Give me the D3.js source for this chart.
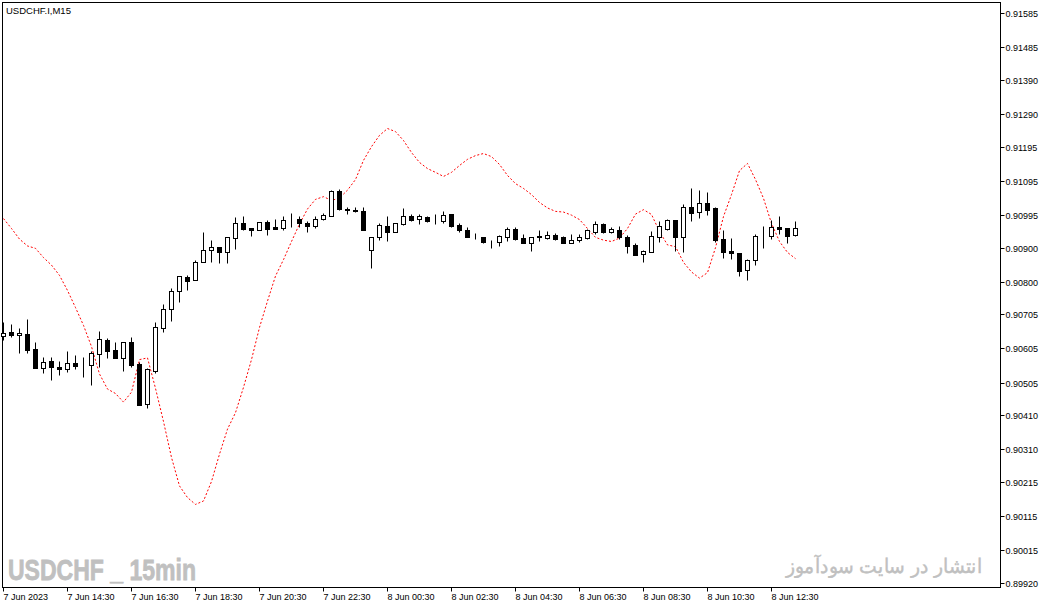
<!DOCTYPE html>
<html>
<head>
<meta charset="utf-8">
<script src="https://cdn.jsdelivr.net/npm/d3@7"></script>
<style>
    html, body { margin: 0; padding: 0; background: #fff; }
    .chart-wrap { width: 1046px; height: 608px; position: relative; }
    svg text { font-family: "Liberation Sans", Arial, sans-serif; }
</style>
</head>
<body>
<div class="chart-wrap"><svg class="chart" width="1046" height="608"></svg></div>
<script>
// USDCHF.I M15, 7 Jun 12:30 -> 8 Jun 13:15 (one value per bar)
const opens = [
    0.90641,0.90653,0.90644,0.90647,0.90604,0.90548,0.90568,0.90551,0.90545,0.90563,
    0.90557,0.90557,0.90589,0.90630,0.90601,0.90577,0.90624,0.90560,0.90443,0.90539,
    0.90665,0.90720,0.90773,0.90814,0.90805,0.90858,0.90893,0.90901,0.90887,0.90928,
    0.90972,0.90957,0.90951,0.90974,0.90960,0.90957,0.90983,0.90983,0.90972,0.90963,
    0.90983,0.90992,0.91065,0.91012,0.91010,0.91007,0.90893,0.90931,0.90963,0.90945,
    0.90969,0.90992,0.90983,0.90989,0.90980,0.90977,0.90998,0.90966,0.90951,0.90934,
    0.90931,0.90919,0.90916,0.90931,0.90954,0.90928,0.90913,0.90934,0.90928,0.90937,
    0.90931,0.90913,0.90922,0.90928,0.90945,0.90969,0.90945,0.90951,0.90931,0.90907,
    0.90881,0.90887,0.90931,0.90954,0.90980,0.90931,0.91018,0.91004,0.91030,0.91015,
    0.90925,0.90890,0.90884,0.90834,0.90863,0.90934,0.90934,0.90960,0.90957,0.90937
];
const highs = [
    0.90682,0.90677,0.90665,0.90691,0.90624,0.90580,0.90580,0.90568,0.90598,0.90586,
    0.90580,0.90598,0.90656,0.90636,0.90624,0.90624,0.90639,0.90566,0.90548,0.90682,
    0.90735,0.90782,0.90817,0.90820,0.90863,0.90945,0.90922,0.90901,0.90931,0.90989,
    0.90992,0.90957,0.90974,0.90980,0.90983,0.90992,0.91001,0.90992,0.90977,0.90992,
    0.91001,0.91068,0.91071,0.91018,0.91018,0.91018,0.90931,0.90972,0.90992,0.90972,
    0.91015,0.90998,0.90998,0.90992,0.90998,0.91007,0.90998,0.90972,0.90960,0.90942,
    0.90931,0.90922,0.90937,0.90960,0.90960,0.90939,0.90931,0.90951,0.90948,0.90942,
    0.90934,0.90939,0.90939,0.90954,0.90977,0.90972,0.90960,0.90963,0.90937,0.90913,
    0.90893,0.90948,0.90977,0.90983,0.90980,0.91027,0.91074,0.91068,0.91062,0.91018,
    0.90951,0.90928,0.90884,0.90866,0.90939,0.90963,0.90980,0.90992,0.90957,0.90977
];
const lows = [
    0.90630,0.90639,0.90592,0.90592,0.90548,0.90533,0.90513,0.90528,0.90536,0.90545,
    0.90522,0.90498,0.90551,0.90577,0.90577,0.90539,0.90551,0.90440,0.90431,0.90533,
    0.90653,0.90685,0.90741,0.90776,0.90805,0.90858,0.90858,0.90855,0.90855,0.90896,
    0.90951,0.90934,0.90951,0.90937,0.90954,0.90951,0.90960,0.90960,0.90945,0.90957,
    0.90980,0.90992,0.91010,0.90998,0.91004,0.90951,0.90840,0.90922,0.90919,0.90945,
    0.90966,0.90977,0.90969,0.90974,0.90969,0.90972,0.90960,0.90945,0.90931,0.90925,
    0.90913,0.90899,0.90904,0.90919,0.90922,0.90913,0.90890,0.90919,0.90925,0.90922,
    0.90913,0.90913,0.90916,0.90925,0.90939,0.90942,0.90942,0.90925,0.90884,0.90878,
    0.90858,0.90887,0.90916,0.90951,0.90890,0.90887,0.90977,0.90986,0.90995,0.90916,
    0.90869,0.90866,0.90817,0.90805,0.90849,0.90899,0.90925,0.90939,0.90913,0.90934
];
const closes = [
    0.90650,0.90644,0.90650,0.90601,0.90548,0.90566,0.90551,0.90545,0.90563,0.90554,
    0.90557,0.90592,0.90633,0.90598,0.90577,0.90624,0.90557,0.90440,0.90545,0.90668,
    0.90720,0.90773,0.90817,0.90802,0.90858,0.90893,0.90901,0.90887,0.90931,0.90972,
    0.90954,0.90951,0.90974,0.90954,0.90954,0.90980,0.90983,0.90972,0.90963,0.90983,
    0.90995,0.91065,0.91012,0.91010,0.91007,0.90951,0.90931,0.90966,0.90945,0.90972,
    0.90992,0.90980,0.90992,0.90977,0.90980,0.90995,0.90963,0.90951,0.90931,0.90934,
    0.90916,0.90919,0.90934,0.90954,0.90925,0.90913,0.90931,0.90931,0.90937,0.90925,
    0.90913,0.90922,0.90931,0.90951,0.90969,0.90945,0.90954,0.90931,0.90904,0.90878,
    0.90890,0.90934,0.90963,0.90980,0.90931,0.91018,0.91001,0.91030,0.91010,0.90922,
    0.90887,0.90884,0.90831,0.90863,0.90934,0.90934,0.90960,0.90954,0.90934,0.90957
];
// red dotted indicator line
const indicator = [
    0.90986,0.90957,0.90926,0.90906,0.90899,0.90872,0.90850,0.90820,0.90776,0.90726,
    0.90674,0.90612,0.90532,0.90488,0.90475,0.90450,0.90479,0.90574,0.90579,0.90490,
    0.90393,0.90288,0.90205,0.90171,0.90151,0.90161,0.90218,0.90298,0.90371,0.90419,
    0.90493,0.90574,0.90668,0.90745,0.90818,0.90866,0.90919,0.90970,0.91014,0.91042,
    0.91050,0.91039,0.91046,0.91069,0.91100,0.91156,0.91196,0.91229,0.91249,0.91240,
    0.91214,0.91179,0.91150,0.91132,0.91121,0.91109,0.91121,0.91141,0.91159,0.91170,
    0.91176,0.91167,0.91144,0.91112,0.91088,0.91074,0.91056,0.91033,0.91017,0.91007,
    0.91005,0.90996,0.90983,0.90957,0.90931,0.90923,0.90919,0.90929,0.90957,0.90999,
    0.91012,0.90998,0.90948,0.90909,0.90904,0.90858,0.90830,0.90812,0.90828,0.90901,
    0.90992,0.91056,0.91126,0.91147,0.91100,0.91045,0.90972,0.90919,0.90887,0.90869
];

const priceTicks = [
    0.91585,0.91485,0.91390,0.91290,0.91195,0.91095,0.90995,0.90900,0.90800,
    0.90705,0.90605,0.90505,0.90410,0.90310,0.90215,0.90115,0.90015,0.89920
];
const timeTickBars = [0, 8, 16, 24, 32, 40, 48, 56, 64, 72, 80, 88, 96];
const timeTickLabels = [
    "7 Jun 2023", "7 Jun 14:30", "7 Jun 16:30", "7 Jun 18:30", "7 Jun 20:30",
    "7 Jun 22:30", "8 Jun 00:30", "8 Jun 02:30", "8 Jun 04:30", "8 Jun 06:30",
    "8 Jun 08:30", "8 Jun 10:30", "8 Jun 12:30"
];

const symbolTitle = "USDCHF.I,M15";
const watermarkLeft = "USDCHF _ 15min";
const watermarkRight = "انتشار در سایت سودآموز";

class CandleChart {
    constructor(svgClass){
        this.svgClass = svgClass;
        this.svg = undefined;

        this.frame = { left: 2.5, top: 2.5, right: 1000.5, bottom: 587.5 };

        this.colors = {
            up: "#ffffff",
            down: "#000000",
            stroke: "#000000",
            line: "#ff0000",
            watermark: "#c0c0c0"
        };
    }

    init(){
        this.svg = d3.select(this.svgClass);

        this.x = d3.scaleLinear()
            .domain([0, opens.length - 1])
            .range([3, 3 + 8 * (opens.length - 1)]);

        this.y = d3.scaleLinear()
            .domain([0.89920, 0.91585])
            .range([583, 13]);

        this.drawFrame();
        this.drawAxes();
        this.drawWatermarks();
        this.drawIndicator();
        this.drawCandles();
    }

    // snaps to pixel centres so the 1px lines stay crisp
    px(v){ return Math.round(v) + 0.5; }

    drawFrame(){
        const f = this.frame;
        this.svg.append("rect")
            .attr("x", f.left).attr("y", f.top)
            .attr("width", f.right - f.left)
            .attr("height", f.bottom - f.top)
            .attr("fill", "#fff")
            .attr("stroke", "#000")
            .attr("stroke-width", 1);

        this.svg.append("text")
            .attr("x", 6).attr("y", 14)
            .attr("font-size", "9.5px")
            .attr("fill", "#000")
            .text(symbolTitle);
    }

    drawAxes(){
        const f = this.frame;

        // price axis (right)
        const yAxis = this.svg.append("g").attr("class", "y-axis");
        const yTicks = yAxis.selectAll("g")
            .data(priceTicks)
            .enter().append("g")
            .attr("transform", d => `translate(0,${this.px(this.y(d))})`);
        yTicks.append("line")
            .attr("x1", f.right).attr("x2", f.right + 4)
            .attr("stroke", "#000");
        yTicks.append("text")
            .attr("x", f.right + 5)
            .attr("dy", "0.34em")
            .attr("font-size", "9px")
            .attr("fill", "#000")
            .text(d => d.toFixed(5));

        // time axis (bottom)
        const xAxis = this.svg.append("g").attr("class", "x-axis");
        const xTicks = xAxis.selectAll("g")
            .data(timeTickBars)
            .enter().append("g")
            .attr("transform", d => `translate(${this.px(this.x(d))},0)`);
        xTicks.append("line")
            .attr("y1", f.bottom).attr("y2", f.bottom + 4)
            .attr("stroke", "#000");
        xTicks.append("text")
            .attr("x", 0)
            .attr("y", 600)
            .attr("font-size", "9px")
            .attr("fill", "#000")
            .text((d, i) => timeTickLabels[i]);
    }

    drawWatermarks(){
        this.svg.append("text")
            .attr("x", 8).attr("y", 580)
            .attr("font-family", "'Liberation Sans Narrow', 'DejaVu Sans Condensed', 'Liberation Sans', sans-serif")
            .attr("font-weight", "bold")
            .attr("font-size", "30px")
            .attr("textLength", 188)
            .attr("lengthAdjust", "spacingAndGlyphs")
            .attr("fill", this.colors.watermark)
            .attr("stroke", this.colors.watermark)
            .attr("stroke-width", 0.8)
            .text(watermarkLeft);

        this.svg.append("text")
            .attr("x", 884).attr("y", 573)
            .attr("text-anchor", "middle")
            .attr("font-family", "'DejaVu Sans', sans-serif")
            .attr("font-size", "20px")
            .attr("textLength", 197)
            .attr("lengthAdjust", "spacingAndGlyphs")
            .attr("fill", this.colors.watermark)
            .attr("stroke", this.colors.watermark)
            .attr("stroke-width", 0.4)
            .text(watermarkRight);
    }

    drawIndicator(){
        const line = d3.line()
            .x((d, i) => this.x(i) + 0.5)
            .y(d => this.y(d) + 0.5)
            .curve(d3.curveLinear);

        this.svg.append("path")
            .datum(indicator)
            .attr("d", line)
            .attr("fill", "none")
            .attr("stroke", this.colors.line)
            .attr("stroke-width", 1)
            .attr("stroke-dasharray", "2,2");
    }

    drawCandles(){
        const bars = d3.range(opens.length).map(i => ({
            i: i, o: opens[i], h: highs[i], l: lows[i], c: closes[i]
        }));

        const g = this.svg.append("g").attr("class", "candles");
        const candle = g.selectAll("g")
            .data(bars)
            .enter().append("g");

        candle.append("line")
            .attr("x1", d => this.px(this.x(d.i)))
            .attr("x2", d => this.px(this.x(d.i)))
            .attr("y1", d => this.px(this.y(d.h)))
            .attr("y2", d => this.px(this.y(d.l)))
            .attr("stroke", this.colors.stroke)
            .attr("stroke-width", 1);

        candle.append("rect")
            .attr("x", d => Math.round(this.x(d.i)) - 1.5)
            .attr("y", d => this.px(this.y(Math.max(d.o, d.c))))
            .attr("width", 4)
            .attr("height", d => Math.max(0, Math.round(this.y(Math.min(d.o, d.c))) - Math.round(this.y(Math.max(d.o, d.c)))))
            .attr("fill", d => d.c >= d.o ? this.colors.up : this.colors.down)
            .attr("stroke", this.colors.stroke)
            .attr("stroke-width", 1);
    }
}

const chart = new CandleChart(".chart");
chart.init();
</script>
</body>
</html>
